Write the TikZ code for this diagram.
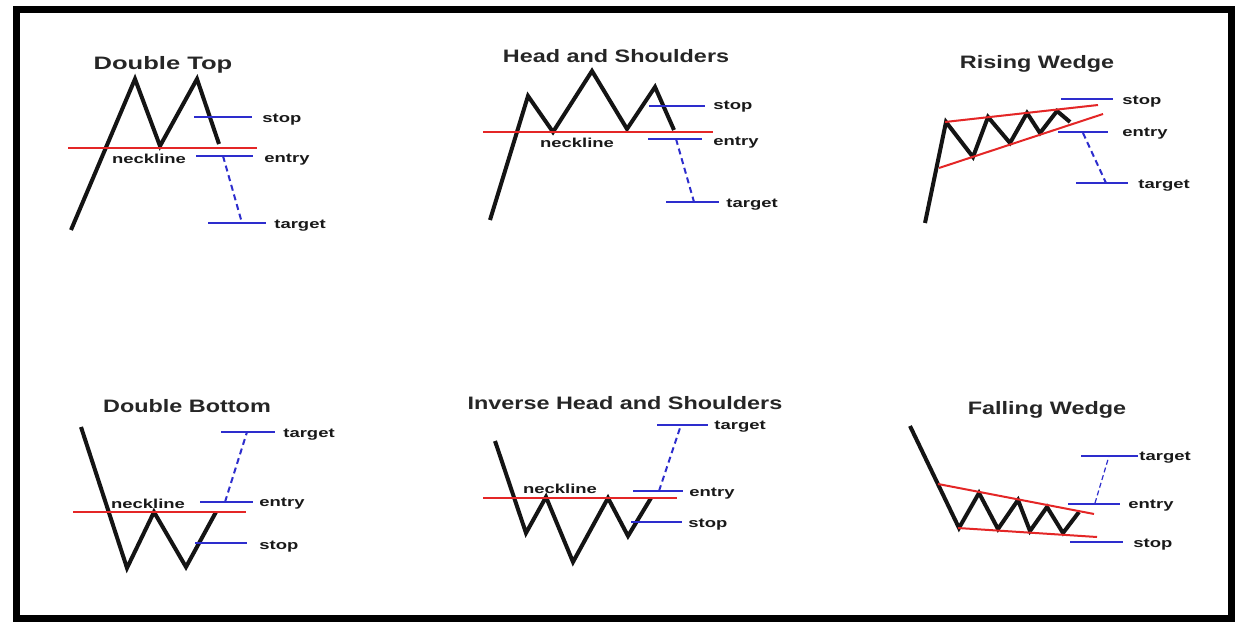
\documentclass[tikz,border=0pt]{standalone}
\usepackage{graphicx}
\usepackage{fontspec}
\setmainfont{Liberation Sans}
\definecolor{myblue}{RGB}{45,45,205}
\definecolor{myred}{RGB}{228,38,38}
\definecolor{ink}{RGB}{20,20,20}
\newcommand\ttltext[2][1.3]{\scalebox{#1}[1]{#2}}
\newcommand\lbltext[1]{\scalebox{1.42}[1]{#1}}
\tikzset{
  frame/.style={draw=black,line width=3.5pt},
  price/.style={draw=ink,line width=2pt,line join=miter,line cap=butt},
  neck/.style={draw=myred,line width=1pt},
  lvl/.style={draw=myblue,line width=1pt},
  proj/.style={draw=myblue,line width=1pt,dash pattern=on 3pt off 2pt},
  projthin/.style={draw=myblue,line width=0.6pt,dash pattern=on 2.5pt off 1.5pt},
  ttl/.style={font=\bfseries\fontsize{9}{10}\selectfont,text=black!85,inner sep=0pt,anchor=base},
  lbl/.style={font=\bfseries\fontsize{6.5}{7}\selectfont,text=black!90,inner sep=0pt,anchor=mid west},
  nl/.style={font=\bfseries\fontsize{6.5}{7}\selectfont,text=black!90,inner sep=0pt,anchor=mid}
}
\begin{document}
\begin{tikzpicture}[x=0.5pt,y=-0.5pt]
\useasboundingbox (0,0) rectangle (1241,625);
\fill[white] (0,0) rectangle (1241,625);
\draw[frame] (16.5,10) rectangle (1231,618);

% ---------------- Double Top ----------------
\node[ttl] (dtT) at (163,70) {\ttltext[1.42]{Double Top}};
\coordinate (dt0) at (71,230);
\coordinate (dt1) at (135,79);
\coordinate (dt2) at (160,146);
\coordinate (dt3) at (197,79);
\coordinate (dt4) at (219,144);
\draw[price] (dt0)--(dt1)--(dt2)--(dt3)--(dt4);
\coordinate (dtnA) at (68,148);
\coordinate (dtnB) at (257,148);
\draw[neck] (dtnA)--(dtnB);
\node[nl] (dtN) at (149,158) {\lbltext{neckline}};
\coordinate (dtsA) at (194,117);
\coordinate (dtsB) at (252,117);
\coordinate (dteA) at (196,156);
\coordinate (dteB) at (253,156);
\coordinate (dttA) at (208,223);
\coordinate (dttB) at (266,223);
\draw[lvl] (dtsA)--(dtsB);
\draw[lvl] (dteA)--(dteB);
\draw[lvl] (dttA)--(dttB);
\coordinate (dtpA) at (223,156);
\coordinate (dtpB) at (242,223);
\draw[proj] (dtpA)--(dtpB);
\node[lbl] (dtS) at (262,117) {\lbltext{stop}};
\node[lbl] (dtE) at (264,157) {\lbltext{entry}};
\node[lbl] (dtG) at (274,223) {\lbltext{target}};

% ---------------- Head and Shoulders ----------------
\node[ttl] (hsT) at (616,63) {\ttltext{Head and Shoulders}};
\coordinate (hs0) at (490,220);
\coordinate (hs1) at (528,96);
\coordinate (hs2) at (553,132);
\coordinate (hs3) at (592,71);
\coordinate (hs4) at (627,129);
\coordinate (hs5) at (655,87);
\coordinate (hs6) at (674,130);
\draw[price] (hs0)--(hs1)--(hs2)--(hs3)--(hs4)--(hs5)--(hs6);
\coordinate (hsnA) at (483,132);
\coordinate (hsnB) at (713,132);
\draw[neck] (hsnA)--(hsnB);
\node[nl] (hsN) at (577,142) {\lbltext{neckline}};
\coordinate (hssA) at (649,106);
\coordinate (hssB) at (705,106);
\coordinate (hseA) at (648,139);
\coordinate (hseB) at (702,139);
\coordinate (hstA) at (666,202);
\coordinate (hstB) at (719,202);
\draw[lvl] (hssA)--(hssB);
\draw[lvl] (hseA)--(hseB);
\draw[lvl] (hstA)--(hstB);
\coordinate (hspA) at (676,139);
\coordinate (hspB) at (694,202);
\draw[proj] (hspA)--(hspB);
\node[lbl] (hsS) at (713,104) {\lbltext{stop}};
\node[lbl] (hsE) at (713,140) {\lbltext{entry}};
\node[lbl] (hsG) at (726,202) {\lbltext{target}};

% ---------------- Rising Wedge ----------------
\node[ttl] (rwT) at (1037,69) {\ttltext{Rising Wedge}};
\coordinate (rw0) at (925,223);
\coordinate (rw1) at (946,122);
\coordinate (rw2) at (973,157);
\coordinate (rw3) at (988,117);
\coordinate (rw4) at (1010,143);
\coordinate (rw5) at (1027,113);
\coordinate (rw6) at (1040,133);
\coordinate (rw7) at (1057,111);
\coordinate (rw8) at (1070,122);
\draw[price] (rw0)--(rw1)--(rw2)--(rw3)--(rw4)--(rw5)--(rw6)--(rw7)--(rw8);
\coordinate (rwuA) at (945,122);
\coordinate (rwuB) at (1098,105);
\coordinate (rwlA) at (939,168);
\coordinate (rwlB) at (1103,114);
\draw[neck] (rwuA)--(rwuB);
\draw[neck] (rwlA)--(rwlB);
\coordinate (rwsA) at (1061,99);
\coordinate (rwsB) at (1113,99);
\coordinate (rweA) at (1058,132);
\coordinate (rweB) at (1108,132);
\coordinate (rwtA) at (1076,183);
\coordinate (rwtB) at (1128,183);
\draw[lvl] (rwsA)--(rwsB);
\draw[lvl] (rweA)--(rweB);
\draw[lvl] (rwtA)--(rwtB);
\coordinate (rwpA) at (1083,133);
\coordinate (rwpB) at (1106,183);
\draw[proj] (rwpA)--(rwpB);
\node[lbl] (rwS) at (1122,99) {\lbltext{stop}};
\node[lbl] (rwE) at (1122,131) {\lbltext{entry}};
\node[lbl] (rwG) at (1138,183) {\lbltext{target}};

% ---------------- Double Bottom ----------------
\node[ttl] (dbT) at (187,412) {\ttltext{Double Bottom}};
\coordinate (db0) at (81,427);
\coordinate (db1) at (127,568);
\coordinate (db2) at (154,512);
\coordinate (db3) at (186,567);
\coordinate (db4) at (216,512);
\draw[price] (db0)--(db1)--(db2)--(db3)--(db4);
\coordinate (dbnA) at (73,512);
\coordinate (dbnB) at (246,512);
\draw[neck] (dbnA)--(dbnB);
\node[nl] (dbN) at (148,503) {\lbltext{neckline}};
\coordinate (dbtA) at (221,432);
\coordinate (dbtB) at (275,432);
\coordinate (dbeA) at (200,502);
\coordinate (dbeB) at (253,502);
\coordinate (dbsA) at (195,543);
\coordinate (dbsB) at (247,543);
\draw[lvl] (dbtA)--(dbtB);
\draw[lvl] (dbeA)--(dbeB);
\draw[lvl] (dbsA)--(dbsB);
\coordinate (dbpA) at (225,502);
\coordinate (dbpB) at (247,432);
\draw[proj] (dbpA)--(dbpB);
\node[lbl] (dbG) at (283,432) {\lbltext{target}};
\node[lbl] (dbE) at (259,501) {\lbltext{entry}};
\node[lbl] (dbS) at (259,544) {\lbltext{stop}};

% ---------------- Inverse Head and Shoulders ----------------
\node[ttl] (ihT) at (625,409) {\ttltext{Inverse Head and Shoulders}};
\coordinate (ih0) at (495,441);
\coordinate (ih1) at (526,533);
\coordinate (ih2) at (546,497);
\coordinate (ih3) at (573,562);
\coordinate (ih4) at (608,498);
\coordinate (ih5) at (628,536);
\coordinate (ih6) at (651,498);
\draw[price] (ih0)--(ih1)--(ih2)--(ih3)--(ih4)--(ih5)--(ih6);
\coordinate (ihnA) at (483,498);
\coordinate (ihnB) at (677,498);
\draw[neck] (ihnA)--(ihnB);
\node[nl] (ihN) at (560,488) {\lbltext{neckline}};
\coordinate (ihtA) at (657,425);
\coordinate (ihtB) at (708,425);
\coordinate (iheA) at (633,491);
\coordinate (iheB) at (683,491);
\coordinate (ihsA) at (631,522);
\coordinate (ihsB) at (682,522);
\draw[lvl] (ihtA)--(ihtB);
\draw[lvl] (iheA)--(iheB);
\draw[lvl] (ihsA)--(ihsB);
\coordinate (ihpA) at (659,491);
\coordinate (ihpB) at (681,425);
\draw[proj] (ihpA)--(ihpB);
\node[lbl] (ihG) at (714,424) {\lbltext{target}};
\node[lbl] (ihE) at (689,491) {\lbltext{entry}};
\node[lbl] (ihS) at (688,522) {\lbltext{stop}};

% ---------------- Falling Wedge ----------------
\node[ttl] (fwT) at (1047,415) {\ttltext{Falling Wedge}};
\coordinate (fw0) at (910,426);
\coordinate (fw1) at (959,528);
\coordinate (fw2) at (979,493);
\coordinate (fw3) at (998,529);
\coordinate (fw4) at (1018,500);
\coordinate (fw5) at (1030,531);
\coordinate (fw6) at (1047,507);
\coordinate (fw7) at (1063,533);
\coordinate (fw8) at (1079,512);
\draw[price] (fw0)--(fw1)--(fw2)--(fw3)--(fw4)--(fw5)--(fw6)--(fw7)--(fw8);
\coordinate (fwuA) at (938,484);
\coordinate (fwuB) at (1094,514);
\coordinate (fwlA) at (958,528);
\coordinate (fwlB) at (1097,537);
\draw[neck] (fwuA)--(fwuB);
\draw[neck] (fwlA)--(fwlB);
\coordinate (fwtA) at (1081,456);
\coordinate (fwtB) at (1138,456);
\coordinate (fweA) at (1068,504);
\coordinate (fweB) at (1120,504);
\coordinate (fwsA) at (1070,542);
\coordinate (fwsB) at (1123,542);
\draw[lvl] (fwtA)--(fwtB);
\draw[lvl] (fweA)--(fweB);
\draw[lvl] (fwsA)--(fwsB);
\coordinate (fwpA) at (1095,503);
\coordinate (fwpB) at (1109,456);
\draw[projthin] (fwpA)--(fwpB);
\node[lbl] (fwG) at (1139,455) {\lbltext{target}};
\node[lbl] (fwE) at (1128,503) {\lbltext{entry}};
\node[lbl] (fwS) at (1133,542) {\lbltext{stop}};
\end{tikzpicture}
\end{document}
